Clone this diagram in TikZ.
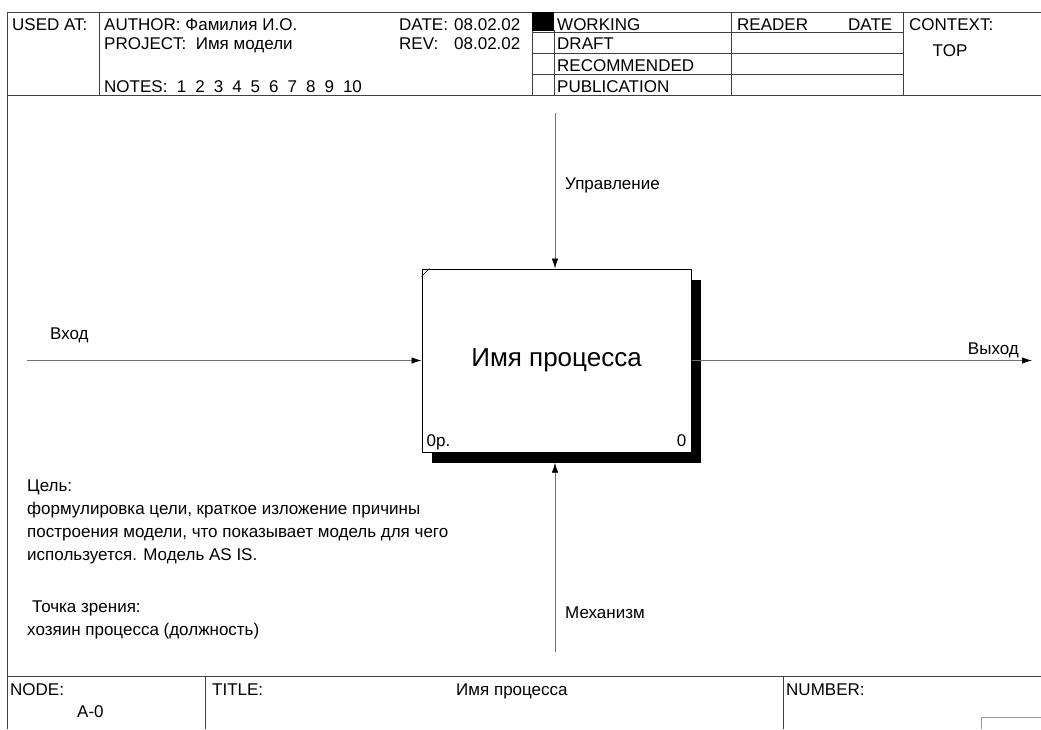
\documentclass[tikz,border=0pt]{standalone}
\usepackage{fontspec}
\setmainfont{Liberation Sans}
\usetikzlibrary{arrows.meta,positioning}

\begin{document}
\begin{tikzpicture}[
        x=1pt,
        y=-1pt,
        frame/.style={draw=black!75, line width=0.8pt},
        txt/.style={font=\fontsize{17}{19}\selectfont, inner sep=0pt, anchor=base west},
        flow/.style={draw=black!55, line width=0.8pt, -{Latex[length=10pt, width=6.5pt, black]}},
        procbox/.style={draw=black, line width=1pt, fill=white, minimum width=269pt, minimum height=183pt, inner sep=0pt, font=\fontsize{26}{28}\selectfont},
        shadowbox/.style={fill=black, minimum width=269pt, minimum height=183pt, inner sep=0pt}
    ]
        \useasboundingbox (0,0) rectangle (1041,729);

        % Header frame
        \draw[frame] (1041,12) -- (7,12) -- (7,729);
        \draw[frame] (7,95) -- (1041,95);
        \draw[frame] (99,12) -- (99,95);
        \draw[frame] (532,12) -- (532,95);
        \draw[frame] (554,30) -- (554,95);
        \draw[frame] (731,12) -- (731,95);
        \draw[frame] (903,12) -- (903,95);
        \foreach \y in {32,53,74} {
            \draw[frame] (532,\y) -- (903,\y);
        }
        \fill (532,12) rectangle (554,31);

        \node[txt] (usedat) at (12,30) {USED AT:};
        \node[txt] (author) at (104,30) {AUTHOR:\ Фамилия И.О.};
        \node[txt] (project) at (104,49) {PROJECT:\ \ Имя модели};
        \node[txt] (notes) at (104,92) {NOTES:\ \ 1\hspace{9pt}2\hspace{9pt}3\hspace{9pt}4\hspace{9pt}5\hspace{9pt}6\hspace{9pt}7\hspace{9pt}8\hspace{9pt}9\hspace{9pt}10};
        \node[txt] (datelab) at (399,30) {DATE:};
        \node[txt] (dateval) at (454,30) {08.02.02};
        \node[txt] (revlab) at (399,49) {REV:};
        \node[txt] (revval) at (454,49) {08.02.02};
        \node[txt] (working) at (557,30) {WORKING};
        \node[txt] (draft) at (557,49) {DRAFT};
        \node[txt] (recommended) at (557,71) {RECOMMENDED};
        \node[txt] (publication) at (557,92) {PUBLICATION};
        \node[txt] (reader) at (737,30) {READER};
        \node[txt] (readerdate) at (848,30) {DATE};
        \node[txt] (context) at (909,30) {CONTEXT:};
        \node[txt, anchor=base] (top) at (950,56) {TOP};

        % Activity box with shadow
        \node[shadowbox] (procshadow) at (566.5,371) {};
        \node[procbox] (proc) at (556.5,360.5) {Имя процесса};
        \draw[line width=0.6pt] ([yshift=-8pt]proc.north west) -- ([xshift=8pt]proc.north west);
        \node[txt] (procid) at ([xshift=5pt, yshift=6pt]proc.south west) {0р.};
        \node[txt, anchor=base east] (procnum) at ([xshift=-5pt, yshift=6pt]proc.south east) {0};

        % Arrows
        \coordinate (ctrlsrc) at (555,113);
        \coordinate (inpsrc) at (27,360.5);
        \coordinate (outend) at (1032,360.5);
        \coordinate (mechsrc) at (555,652);
        \draw[flow] (ctrlsrc) -- (ctrlsrc |- proc.north);
        \draw[flow] (inpsrc) -- (proc.west);
        \draw[flow] (proc.east) -- (outend);
        \draw[flow] (mechsrc) -- (mechsrc |- procshadow.south);

        \node[txt] (ctrllab) at (565,189) {Управление};
        \node[txt] (inplab) at (50,339) {Вход};
        \node[txt, anchor=base east] (outlab) at (1019,354) {Выход};
        \node[txt] (mechlab) at (565,618) {Механизм};

        % Purpose and viewpoint
        \node[txt] (purpose) at (27,491) {Цель:};
        \node[txt] (purpose1) at (27,514) {формулировка цели, краткое изложение причины};
        \node[txt] (purpose2) at (27,537) {построения модели, что показывает модель для чего};
        \node[txt] (purpose3) at (27,560) {используется. Модель AS IS.};
        \node[txt] (viewpoint) at (32,612) {Точка зрения:};
        \node[txt] (viewpoint1) at (27,635) {хозяин процесса (должность)};

        % Footer frame
        \draw[frame] (7,676) -- (1041,676);
        \draw[frame] (205,676) -- (205,729);
        \draw[frame] (783,676) -- (783,729);
        \draw[draw=black!40, line width=0.8pt] (981,729) -- (981,717) -- (1041,717);

        \node[txt] (nodelab) at (10,695) {NODE:};
        \node[txt] (nodeval) at (77,717) {A-0};
        \node[txt] (titlelab) at (212,695) {TITLE:};
        \node[txt] (titleval) at (456,695) {Имя процесса};
        \node[txt] (numberlab) at (786,695) {NUMBER:};
    \end{tikzpicture}
\end{document}
